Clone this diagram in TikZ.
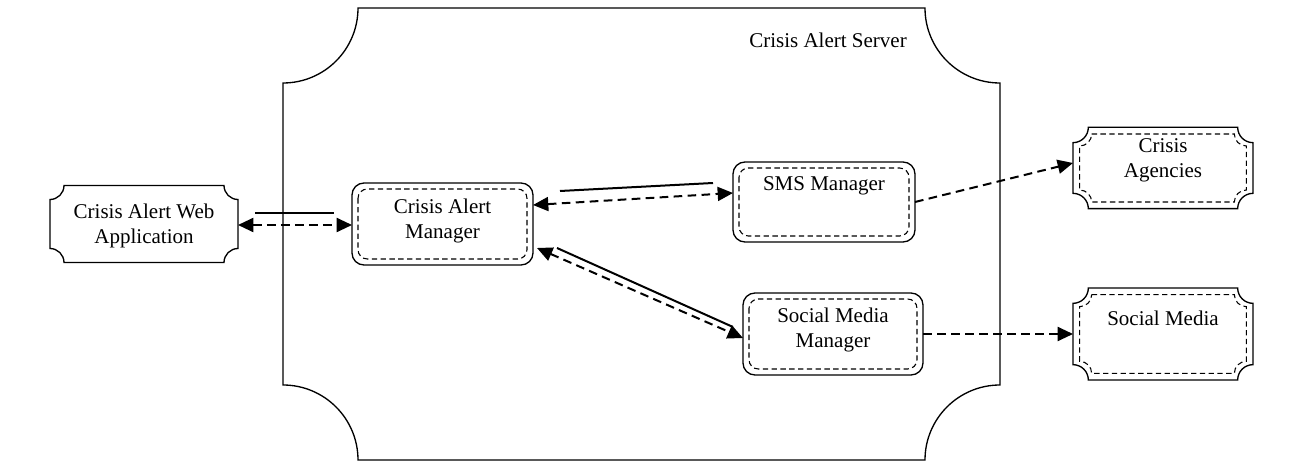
\documentclass[tikz,border=0pt]{standalone}
\usepackage{fontspec}
\setmainfont{Liberation Serif}
\usetikzlibrary{calc,arrows.meta}
\newcommand\cpath[3]{%
 ($(#1.north west)+(#3+#2,-#3)$) -- ($(#1.north east)+(-#3-#2,-#3)$)
 arc[start angle=180,end angle=270,radius=#2]
 -- ($(#1.south east)+(-#3,#3+#2)$)
 arc[start angle=90,end angle=180,radius=#2]
 -- ($(#1.south west)+(#3+#2,#3)$)
 arc[start angle=0,end angle=90,radius=#2]
 -- ($(#1.north west)+(#3,-#3-#2)$)
 arc[start angle=270,end angle=360,radius=#2] -- cycle}
\tikzset{
  box/.style={inner sep=0pt,outer sep=0pt},
  rbox/.style={box,draw,line width=1pt,rounded corners=9pt},
  lbl/.style={inner sep=0pt,align=center,font=\fontsize{15.75}{18.75}\selectfont},
  outline/.style={line width=1pt},
  innerdash/.style={line width=0.8pt,dash pattern=on 4pt off 2.6pt},
  solidcon/.style={line width=1.5pt},
  dashcon/.style={line width=1.5pt,dash pattern=on 6.5pt off 4pt},
  tip/.style={-{Triangle[length=11.5pt,width=10.5pt]}},
  tips/.style={{Triangle[length=11.5pt,width=10.5pt]}-{Triangle[length=11.5pt,width=10.5pt]}}
}
\begin{document}
\begin{tikzpicture}[x=0.75pt,y=-0.75pt]
\useasboundingbox (0,0) rectangle (1315,474);
% server container
\node[box,minimum width=537.75pt,minimum height=339pt] (server) at (641.5,234) {};
\draw[outline] \cpath{server}{56.25pt}{0pt};
\node[lbl] (serverlbl) at (828,40) {Crisis Alert Server};
% web application
\node[box,minimum width=141pt,minimum height=57.75pt] (web) at (144,224) {};
\draw[outline] \cpath{web}{10.5pt}{0pt};
\node[lbl] (webt) at (144,226) {Crisis Alert Web\\Application};
% crisis alert manager
\node[rbox,minimum width=135.75pt,minimum height=61.5pt] (cam) at (442.5,224) {};
\draw[innerdash,rounded corners=7pt] ($(cam.north west)+(4.5pt,-4.5pt)$) rectangle ($(cam.south east)+(-4.5pt,4.5pt)$);
\node[lbl] (camt) at (442.5,221) {Crisis Alert\\Manager};
% sms manager
\node[rbox,minimum width=136.5pt,minimum height=60pt] (sms) at (824,202) {};
\draw[innerdash,rounded corners=7pt] ($(sms.north west)+(4.5pt,-4.5pt)$) rectangle ($(sms.south east)+(-4.5pt,4.5pt)$);
\node[lbl] (smst) at (824,186) {SMS Manager};
% social media manager
\node[rbox,minimum width=135pt,minimum height=61.5pt] (smm) at (833,334) {};
\draw[innerdash,rounded corners=7pt] ($(smm.north west)+(4.5pt,-4.5pt)$) rectangle ($(smm.south east)+(-4.5pt,4.5pt)$);
\node[lbl] (smmt) at (833,330) {Social Media\\Manager};
% crisis agencies
\node[box,minimum width=135pt,minimum height=61pt] (ca) at (1163,168) {};
\draw[outline] \cpath{ca}{11.5pt}{0pt};
\draw[innerdash] \cpath{ca}{9pt}{5pt};
\node[lbl] (cat) at (1163,160) {Crisis\\Agencies};
% social media
\node[box,minimum width=135pt,minimum height=69pt] (sm) at (1163,334) {};
\draw[outline] \cpath{sm}{11.5pt}{0pt};
\draw[innerdash] \cpath{sm}{9pt}{5pt};
\node[lbl] (smt) at (1163,318) {Social Media};
% free ends of solid lines
\coordinate (s1a) at (255,213);
\coordinate (s1b) at (334,213);
\coordinate (s2a) at (560,191);
\coordinate (s2b) at (713,183);
\coordinate (s3a) at (557,248);
\coordinate (s3b) at (733,327);
% connectors
\draw[solidcon] (s1a) -- (s1b);
\draw[dashcon,tips] ($(web.east)+(0,1)$) -- ($(cam.west)+(0,1)$);
\draw[solidcon] (s2a) -- (s2b);
\draw[dashcon,tips] ($(cam.north east)+(0,22)$) -- ($(sms.west)+(0,-9)$);
\draw[solidcon] (s3a) -- (s3b);
\draw[dashcon,tips] ($(cam.south east)+(4,-17)$) -- ($(smm.west)+(0,4)$);
\draw[dashcon,tip] (sms.east) -- ($(ca.west)+(0,-5)$);
\draw[dashcon,tip] (smm.east) -- (sm.west);
\end{tikzpicture}
\end{document}
